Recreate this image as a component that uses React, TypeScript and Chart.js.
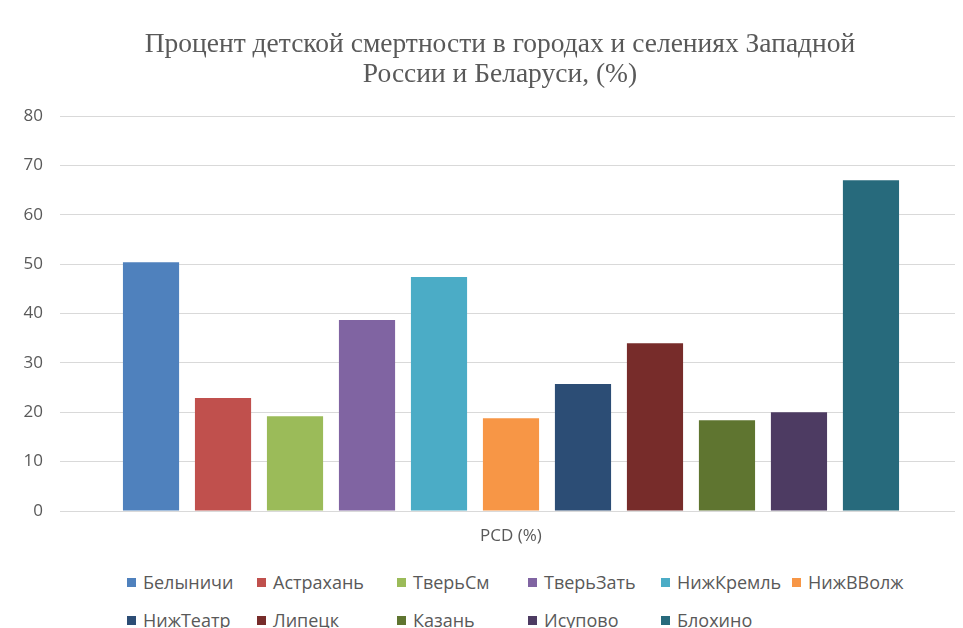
import React, { useEffect, useRef } from 'react';
import { Chart, registerables } from 'chart.js';

Chart.register(...registerables);

const categories = ['PCD (%)'];
const seriesNames = ['Белыничи', 'Астрахань', 'ТверьСм', 'ТверьЗать', 'НижКремль', 'НижВВолж', 'НижТеатр', 'Липецк', 'Казань', 'Исупово', 'Блохино'];
const seriesValues = [50.4, 22.9, 19.2, 38.7, 47.4, 18.8, 25.7, 34.0, 18.4, 20.0, 67.0];
const seriesColors = ['#4F81BD', '#C0504D', '#9BBB59', '#8064A2', '#4BACC6', '#F79646', '#2C4D75', '#772C2A', '#5F7530', '#4D3B62', '#276A7C'];
const yTickMin = 0;
const yTickMax = 80;
const yTickStep = 10;
const titleLines = ['Процент детской смертности в городах и селениях Западной', 'России и Беларуси, (%)'];

const TEXT = '#595959';
const GRID = '#d9d9d9';
const SANS = '"Open Sans", "Noto Sans", sans-serif';

const legendCols = [119, 249, 389, 520, 653, 784];
const legendRows = [574, 612];

export default function App() {
  const ref = useRef<HTMLCanvasElement>(null);

  useEffect(() => {
    if (!ref.current) return;
    const chart = new Chart(ref.current, {
      type: 'bar',
      data: {
        labels: categories,
        datasets: seriesNames.map((name, i) => ({
          label: name,
          data: [seriesValues[i]],
          backgroundColor: seriesColors[i],
          borderWidth: 0,
          categoryPercentage: 0.878,
          barPercentage: 0.78,
        })),
      },
      options: {
        animation: false,
        responsive: false,
        devicePixelRatio: 1,
        layout: { padding: 0 },
        plugins: {
          legend: { display: false },
          tooltip: { enabled: false },
          title: {
            display: true,
            text: titleLines,
            color: TEXT,
            font: { family: '"Liberation Serif", "DejaVu Serif", serif', size: 27.5, weight: 'normal', lineHeight: '30px' as any },
            padding: { top: 22, bottom: 26 },
          },
        },
        scales: {
          x: {
            grid: { display: false, drawTicks: false },
            border: { display: true, color: GRID },
            ticks: { color: TEXT, font: { family: SANS, size: 17 }, padding: 15 },
            afterFit: (s: any) => { s.height = 49; },
          },
          y: {
            min: yTickMin,
            max: yTickMax,
            grid: { color: GRID, drawTicks: false },
            border: { display: false },
            ticks: { stepSize: yTickStep, color: TEXT, font: { family: SANS, size: 17 }, padding: 17 },
            afterFit: (s: any) => { s.width = 52; },
          },
          yRight: {
            position: 'right',
            min: yTickMin,
            max: yTickMax,
            grid: { display: false, drawTicks: false },
            border: { display: false },
            ticks: { display: false },
            afterFit: (s: any) => { s.width = 30; },
          },
        },
      },
    });
    return () => chart.destroy();
  }, []);

  return (
    <div
      style={{
        position: 'relative',
        width: 955,
        height: 620,
        overflow: 'hidden',
        borderLeft: '1px solid ' + GRID,
        borderTop: '1px solid ' + GRID,
        margin: '-1px 0 0 -1px',
        background: '#fff',
      }}
    >
      <canvas ref={ref} width={984} height={552} style={{ position: 'absolute', left: 0, top: 0, width: 984, height: 552 }} />
      {seriesNames.map((name, i) => {
        const col = legendCols[i % 6];
        const row = legendRows[Math.floor(i / 6)];
        return (
          <div
            key={name}
            style={{
              position: 'absolute',
              left: col,
              top: row - 13,
              height: 26,
              display: 'flex',
              alignItems: 'center',
              whiteSpace: 'nowrap',
              fontFamily: SANS,
              fontSize: 18,
              color: TEXT,
            }}
          >
            <span style={{ display: 'inline-block', width: 9, height: 9, background: seriesColors[i], marginRight: 7 }} />
            <span>{name}</span>
          </div>
        );
      })}
    </div>
  );
}
